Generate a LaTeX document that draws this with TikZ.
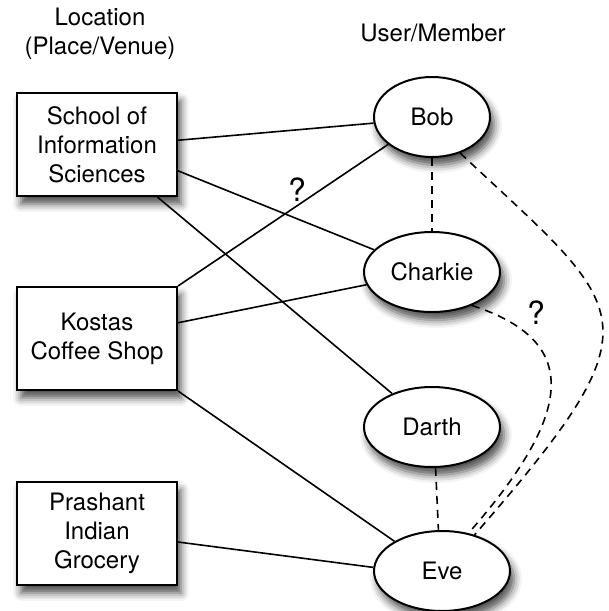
\documentclass[tikz,border=0pt]{standalone}
\usepackage{fontspec}
\setmainfont{TeX Gyre Heros}
\usetikzlibrary{shapes,positioning,shadows.blur}

\begin{document}
\begin{tikzpicture}[
    x=0.5pt, y=-0.5pt,
    font=\fontsize{12}{14.5}\selectfont,
    heading/.style={align=center},
    place/.style={rectangle, draw, line width=1pt, fill=white, align=center, minimum width=80pt, minimum height=51.5pt, blur shadow={shadow xshift=2pt, shadow yshift=-4pt, shadow blur radius=4pt, shadow opacity=70}},
    member/.style={ellipse, draw, line width=1pt, fill=white, inner sep=0pt, minimum width=68pt, minimum height=40pt, blur shadow={shadow xshift=2pt, shadow yshift=-4pt, shadow blur radius=4pt, shadow opacity=70}},
    link/.style={line width=0.8pt},
    maybe/.style={line width=0.8pt, dash pattern=on 4pt off 3pt},
    query/.style={font=\fontsize{16}{19}\selectfont}
]
\useasboundingbox (0,0) rectangle (609,611);

% Headings
\node[heading] (loclabel) at (100,34) {Location\\(Place/Venue)};
\node[heading] (userlabel) at (433,33) {User/Member};

% Locations
\node[place] (school) at (97,144.5) {School of\\Information\\Sciences};
\node[place, below=44.5pt of school] (kostas) {Kostas\\Coffee Shop};
\node[place, below=45pt of kostas] (prashant) {Prashant\\Indian\\Grocery};

% Members
\node[member, minimum width=58pt] (bob) at (432,117) {Bob};
\node[member, below=36.5pt of bob] (charkie) {Charkie};
\node[member, below=36.5pt of charkie] (darth) {Darth};
\node[member, below=31pt of darth, xshift=5pt] (eve) {Eve};

% Check-ins
\draw[link] (school.3) -- (bob.186);
\draw[link] (school.342) -- (charkie.159);
\draw[link] (school.319) -- (darth.140);
\draw[link] (kostas.north east) -- (bob.212);
\draw[link] (kostas.11) -- (charkie.191);
\draw[link] (kostas.south east) -- (eve.148);
\draw[link] (prashant.354) -- (eve.177);

% Friendships
\draw[maybe] (bob.south) -- (charkie.north);
\draw[maybe] (darth.-85) -- (eve.95);
\draw[maybe] (bob.308) .. controls +(170,160) and +(190,-218) .. (eve.48);
\draw[maybe] (charkie.320) .. controls +(108,35) and +(108,-123) .. (eve.55);

% Unknown links
\node[query] (q1) at (297,190) {?};
\node[query] (q2) at (536,313) {?};

\end{tikzpicture}
\end{document}
